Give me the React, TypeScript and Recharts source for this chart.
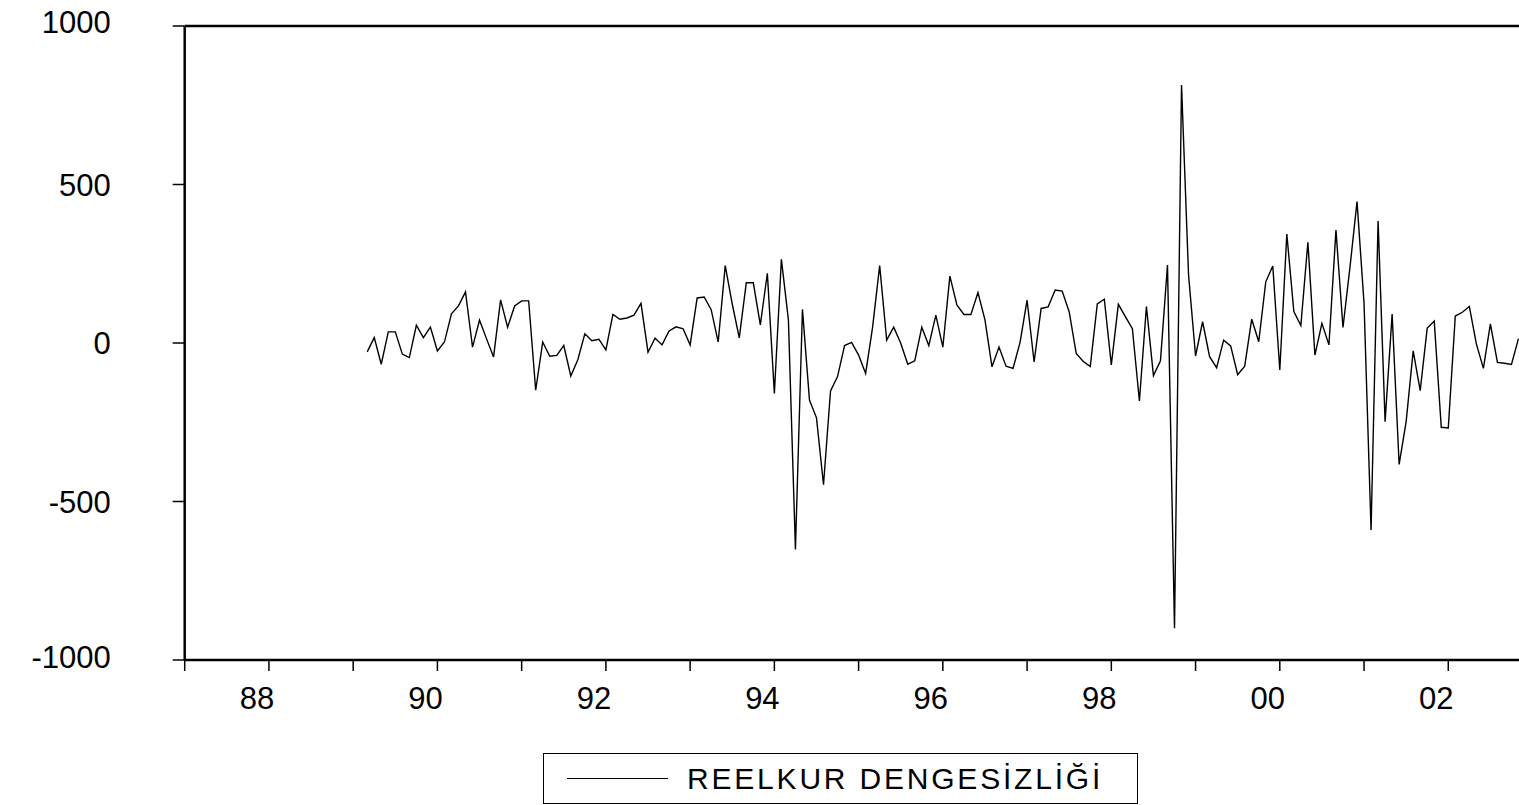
import { LineChart, Line, XAxis, YAxis, ReferenceLine } from "recharts";

// monthly, 1989:03 .. 2002:11
const startIndex = 26; // months since 1987:01
const reelkur = [
  -28, 17, -67, 35, 35, -35, -46, 56, 17, 50, -25, 3, 92, 117, 161, -13, 72, 13, -44, 136,
  50, 117, 133, 133, -149, 3, -42, -39, -8, -104, -53, 29, 7, 12, -22, 90, 75, 79, 88, 125,
  -29, 15, -6, 38, 51, 45, -6, 142, 145, 105, 3, 244, 123, 16, 190, 190, 57, 220, -159, 264,
  73, -651, 106, -180, -236, -447, -151, -106, -8, 2, -38, -96, 51, 244, 9, 50, -1, -67, -56, 50,
  -8, 88, -13, 211, 120, 90, 90, 159, 73, -75, -13, -73, -80, 2, 135, -60, 109, 114, 167, 164,
  98, -33, -58, -74, 123, 138, -69, 122, 83, 45, -183, 115, -103, -56, 246, -900, 814, 215, -41, 67,
  -43, -78, 9, -9, -100, -73, 75, 4, 193, 243, -85, 344, 99, 55, 318, -38, 62, -6, 356, 49,
  240, 446, 125, -590, 385, -248, 91, -383, -248, -25, -150, 47, 69, -266, -268, 85, 97, 115, -3, -80,
  60, -61, -64, -68, 14,
];

const yearTicks = [0, 12, 24, 36, 48, 60, 72, 84, 96, 108, 120, 132, 144, 156, 168, 180];
const yearLabels = ["", "88", "", "90", "", "92", "", "94", "", "96", "", "98", "", "00", "", "02"];
const valueTicks = [-1000, -500, 0, 500, 1000];

const data = reelkur.map((v, i) => ({ t: startIndex + i, v }));

const FONT = "'Liberation Sans', Arial, sans-serif";

const XTick = (props: any) => {
  const { x, y, index } = props;
  const label = yearLabels[index] ?? "";
  return (
    <g>
      <line x1={x} y1={y - 8} x2={x} y2={y + 3} stroke="#000" strokeWidth={1.5} />
      {label && (
        <text x={x - 12} y={y + 41} textAnchor="middle" fontFamily={FONT} fontSize={31} fill="#000">
          {label}
        </text>
      )}
    </g>
  );
};

const YTick = (props: any) => {
  const { x, y, payload } = props;
  const v = payload.value;
  const dy = v === 1000 ? -4 : v === -1000 ? -3 : 0;
  return (
    <g>
      <line x1={x - 4} y1={y} x2={x + 8} y2={y} stroke="#000" strokeWidth={1.5} />
      <text x={x - 66} y={y + 11 + dy} textAnchor="end" fontFamily={FONT} fontSize={31} fill="#000">
        {v}
      </text>
    </g>
  );
};

export default function App() {
  return (
    <div style={{ position: "absolute", left: 0, top: 0, width: 1519, height: 805, overflow: "hidden", background: "#fff" }}>
      <LineChart
        width={1560}
        height={805}
        data={data}
        margin={{ top: 26, right: 34.5, bottom: 85, left: 0 }}
      >
        <XAxis
          type="number"
          dataKey="t"
          domain={[0, 191]}
          ticks={yearTicks}
          interval={0}
          height={60}
          axisLine={{ stroke: "#000", strokeWidth: 2.5 }}
          tickLine={false}
          tick={<XTick />}
        />
        <YAxis
          type="number"
          domain={[-1000, 1000]}
          ticks={valueTicks}
          interval={0}
          width={184.7}
          axisLine={{ stroke: "#000", strokeWidth: 2.5 }}
          tickLine={false}
          tick={<YTick />}
        />
        <ReferenceLine y={1000} stroke="#000" strokeWidth={2.5} />
        <Line
          type="linear"
          dataKey="v"
          stroke="#000"
          strokeWidth={1.4}
          dot={false}
          isAnimationActive={false}
        />
      </LineChart>
      <div
        style={{
          position: "absolute",
          left: 543,
          top: 753,
          width: 595,
          height: 51,
          border: "1.5px solid #000",
          boxSizing: "border-box",
          display: "flex",
          alignItems: "center",
          fontFamily: FONT,
          fontSize: 30,
          letterSpacing: 2.8,
          color: "#000",
          background: "#fff",
        }}
      >
        <div style={{ width: 101, borderTop: "1.5px solid #000", marginLeft: 23, marginRight: 19 }} />
        <span>REELKUR DENGESİZLİĞİ</span>
      </div>
    </div>
  );
}
